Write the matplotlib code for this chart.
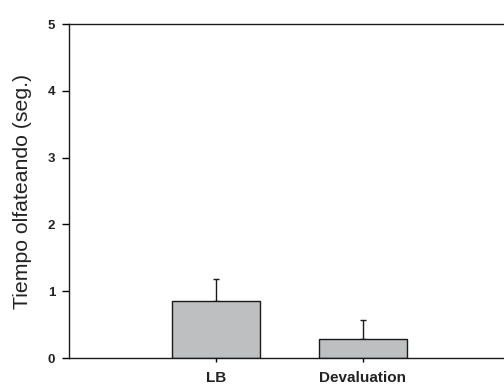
import numpy as np
import matplotlib
matplotlib.use("Agg")
import matplotlib.pyplot as plt

# data
categories = ["LB", "Devaluation"]
means = [0.85, 0.28]
sem = [0.34, 0.29]

plt.rcParams["font.family"] = ["Liberation Sans", "DejaVu Sans"]

fig = plt.figure(figsize=(5.04, 3.88), dpi=100)
ax = fig.add_axes([0.137, 0.077, 0.863, 0.861])

x = np.arange(1, len(categories) + 1)
ax.bar(x, means, width=0.6, color="#bdbfc1", edgecolor="#1a1a1a", linewidth=1.0, zorder=2)
ax.errorbar(x, means, yerr=[np.zeros(len(sem)), sem], fmt="none",
            ecolor="#1a1a1a", elinewidth=1.0, capsize=2.5, capthick=1.0, zorder=1)

ax.set_xlim(0, 2.96)
ax.set_ylim(0, 5)
ax.set_yticks([0, 1, 2, 3, 4, 5])
ax.set_xticks(x)
ax.set_xticklabels(categories, fontsize=11, fontweight="bold", color="#222222")
for lbl in ax.get_yticklabels():
    lbl.set_fontsize(9.5)
    lbl.set_fontweight("bold")
    lbl.set_color("#222222")

ax.set_ylabel("Tiempo olfateando (seg.)", fontsize=15.3, labelpad=11, color="#222222")

ax.spines["right"].set_visible(False)
for s in ["left", "bottom", "top"]:
    ax.spines[s].set_color("#1a1a1a")
    ax.spines[s].set_linewidth(1.0)
ax.tick_params(axis="y", direction="out", length=5, width=1, pad=5)
ax.tick_params(axis="x", direction="out", length=3, width=1, pad=6)

fig.savefig("out.png", dpi=100)
